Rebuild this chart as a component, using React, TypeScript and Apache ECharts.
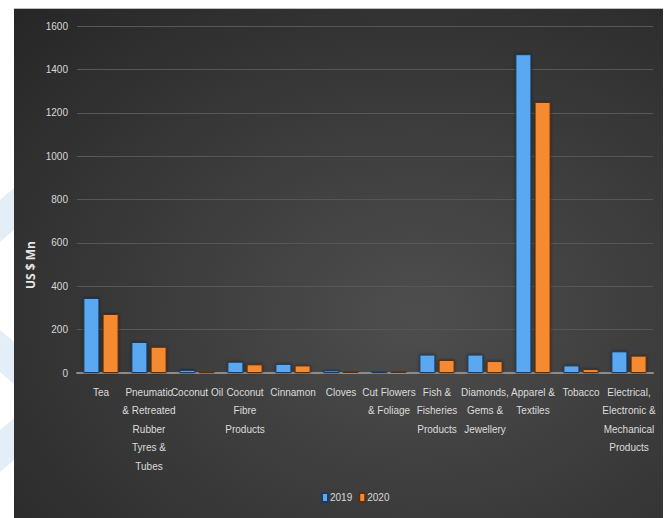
import React, { useEffect, useRef } from "react";
import * as echarts from "echarts";

const categories = [
  "Tea",
  "Pneumatic & Retreated Rubber Tyres & Tubes",
  "Coconut Oil",
  "Coconut Fibre Products",
  "Cinnamon",
  "Cloves",
  "Cut Flowers & Foliage",
  "Fish & Fisheries Products",
  "Diamonds, Gems & Jewellery",
  "Apparel & Textiles",
  "Tobacco",
  "Electrical, Electronic & Mechanical Products",
];

const wrappedLabels = [
  "Tea",
  "Pneumatic\n& Retreated\nRubber\nTyres &\nTubes",
  "Coconut Oil",
  "Coconut\nFibre\nProducts",
  "Cinnamon",
  "Cloves",
  "Cut Flowers\n& Foliage",
  "Fish &\nFisheries\nProducts",
  "Diamonds,\nGems &\nJewellery",
  "Apparel &\nTextiles",
  "Tobacco",
  "Electrical,\nElectronic &\nMechanical\nProducts",
];

const values2019 = [346, 143, 14, 52, 42, 12, 8, 85, 85, 1470, 35, 100];
const values2020 = [272, 121, 8, 40, 35, 6, 6, 60, 55, 1250, 18, 80];

const seriesNames = ["2019", "2020"];
const yTicks = { min: 0, max: 1600, interval: 200 };

const FONT = "'Liberation Sans', Arial, sans-serif";

export default function App() {
  const ref = useRef<HTMLDivElement>(null);
  useEffect(() => {
    if (!ref.current) return;
    const chart = echarts.init(ref.current, undefined, { renderer: "svg" });
    chart.setOption({
      animation: false,
      backgroundColor: "transparent",
      textStyle: { fontFamily: FONT },
      grid: { left: 77, right: 12, top: 26, bottom: 145, containLabel: false },
      legend: {
        data: seriesNames,
        bottom: 10,
        left: 316,
        itemWidth: 6,
        itemHeight: 9,
        itemGap: 6,
        icon: "rect",
        textStyle: { color: "#d8d8d8", fontSize: 10, fontFamily: FONT, padding: [0, 0, 0, -3] },
      },
      xAxis: {
        type: "category",
        data: categories,
        axisLine: { lineStyle: { color: "#8c8c8c", width: 2 } },
        axisTick: { show: false },
        axisLabel: {
          interval: 0,
          color: "#dcdcdc",
          fontSize: 10,
          lineHeight: 18.5,
          margin: 10,
          fontFamily: FONT,
          formatter: (_v: string, i: number) => wrappedLabels[i],
        },
      },
      yAxis: {
        type: "value",
        min: yTicks.min,
        max: yTicks.max,
        interval: yTicks.interval,
        axisLine: { show: false },
        axisTick: { show: false },
        splitLine: { lineStyle: { color: "#575757", width: 1 } },
        axisLabel: {
          color: "#d8d8d8",
          fontSize: 10,
          margin: 9,
          fontFamily: FONT,
          formatter: (v: number) => String(v),
        },
      },
      graphic: [
        {
          type: "polygon",
          silent: true,
          z: -10,
          shape: { points: [[0, 200], [14, 188], [14, 230], [0, 242]] },
          style: { fill: "#e3eef6" },
        },
        {
          type: "polygon",
          silent: true,
          z: -10,
          shape: { points: [[0, 330], [14, 342], [14, 384], [0, 372]] },
          style: { fill: "#e3eef6" },
        },
        {
          type: "polygon",
          silent: true,
          z: -10,
          shape: { points: [[0, 430], [14, 418], [14, 460], [0, 472]] },
          style: { fill: "#e3eef6" },
        },
        {
          type: "text",
          x: 30,
          y: 265,
          rotation: Math.PI / 2,
          style: {
            text: "US $ Mn",
            fill: "#e6e6e6",
            font: "bold 12px 'Open Sans', 'DejaVu Sans', sans-serif",
            align: "center",
            verticalAlign: "middle",
          },
        },
      ],
      series: [
        {
          name: seriesNames[0],
          type: "bar",
          data: values2019,
          barWidth: 16,
          barGap: "20%",
          itemStyle: {
            color: "#5aa8f0",
            borderColor: "#1e3a5c",
            borderWidth: 1,
            shadowColor: "rgba(0,0,0,0.5)",
            shadowBlur: 3,
          },
        },
        {
          name: seriesNames[1],
          type: "bar",
          data: values2020,
          barWidth: 16,
          itemStyle: {
            color: "#f58a32",
            borderColor: "#5a2e10",
            borderWidth: 1,
            shadowColor: "rgba(0,0,0,0.5)",
            shadowBlur: 3,
          },
        },
      ],
    });
    return () => chart.dispose();
  }, []);

  return (
    <div style={{ position: "fixed", left: 0, top: 0, width: 665, height: 518, background: "#ffffff", overflow: "hidden" }}>
      <div
        style={{
          position: "absolute",
          left: 14,
          top: 8,
          width: 649,
          height: 510,
          borderTop: "1px solid #bdbdbd",
          background: "radial-gradient(ellipse at 62% 60%, #4e4e4e 0%, #3c3c3c 45%, #262626 100%)",
        }}
      />
      <div ref={ref} style={{ position: "absolute", left: 0, top: 0, width: 665, height: 518 }} />
    </div>
  );
}
